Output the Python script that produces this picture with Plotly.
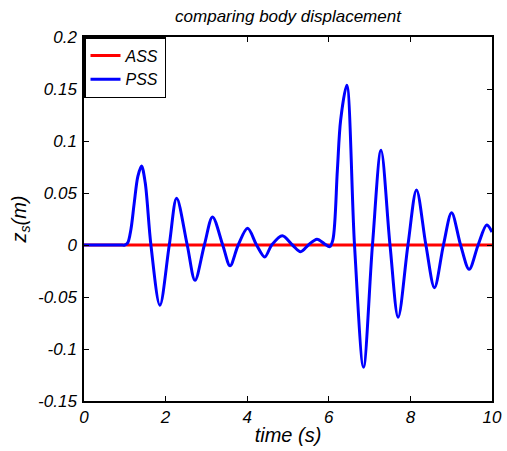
import plotly.graph_objects as go

# Time samples (s) and body displacement (m)
t_pss = [0, 0.3, 0.6, 0.9, 1.0, 1.07, 1.15, 1.23, 1.32, 1.41, 1.50, 1.64, 1.86, 2.09, 2.27, 2.53, 2.72,
         2.95, 3.15, 3.40, 3.58, 3.78, 4.01, 4.23, 4.43, 4.60, 4.86, 5.11, 5.31, 5.50,
         5.71, 5.90, 6.02, 6.10, 6.21, 6.29, 6.44, 6.63, 6.85, 7.07, 7.28, 7.50, 7.70,
         7.94, 8.15, 8.38, 8.59, 8.81, 9.01, 9.23, 9.44, 9.66, 9.87, 10.0]
z_pss = [0, 0, 0, 0, 0, 0.002, 0.015, 0.040, 0.066, 0.076, 0.060, 0.0, -0.058, 0.0, 0.045, 0.0, -0.034,
         0.0, 0.027, 0.0, -0.020, 0.0, 0.016, 0.0, -0.0115, 0.0, 0.009, 0.0, -0.0064, 0.0,
         0.0056, 0.001, -0.0016, 0.005, 0.072, 0.12, 0.1535, 0.0, -0.1175, 0.0, 0.091, 0.0, -0.0695,
         0.0, 0.053, 0.0, -0.041, 0.0, 0.031, 0.0, -0.0234, 0.0, 0.0192, 0.0125]

t_ass = [0, 10]
z_ass = [0, 0]

x_ticks = [0, 2, 4, 6, 8, 10]
y_ticks = [-0.15, -0.1, -0.05, 0, 0.05, 0.1, 0.15, 0.2]
y_tick_text = ["-0.15", "-0.1", "-0.05", "0", "0.05", "0.1", "0.15", "0.2"]

fig = go.Figure()
fig.add_trace(go.Scatter(x=t_ass, y=z_ass, mode="lines", name="ASS",
                         line=dict(color="#ff0000", width=3)))
fig.add_trace(go.Scatter(x=t_pss, y=z_pss, mode="lines", name="PSS",
                         line=dict(color="#0000ff", width=3, shape="spline", smoothing=0.9)))

W, H = 507, 451
font_family = "Liberation Sans, Arial, sans-serif"
fig.update_layout(
    width=W, height=H,
    margin=dict(l=84, r=15, t=37, b=50, autoexpand=False),
    paper_bgcolor="white", plot_bgcolor="white",
    font=dict(family=font_family, size=17, color="black", style="italic"),
    title=dict(text="comparing body displacement", x=0.5, xref="paper",
               y=1 - 16 / H, yanchor="middle", xanchor="center",
               font=dict(family=font_family, size=17, color="black", style="italic")),
    showlegend=True,
    legend=dict(x=0, y=1, xanchor="left", yanchor="top", bgcolor="white",
                bordercolor="black", borderwidth=1.5,
                font=dict(family=font_family, size=16, color="black", style="italic"),
                tracegroupgap=0, itemwidth=30),
)
fig.update_xaxes(range=[0, 10], tickvals=x_ticks, ticktext=[str(v) for v in x_ticks],
                 showgrid=False, zeroline=False, showline=True, linecolor="black", linewidth=1.5,
                 mirror="ticks", ticks="inside", ticklen=5, tickcolor="black",
                 automargin=False, ticklabeloverflow="allow",
                 title=dict(text="time (s)", standoff=2))
fig.update_yaxes(range=[-0.15, 0.2], tickvals=y_ticks, ticktext=y_tick_text,
                 showgrid=False, zeroline=False, showline=True, linecolor="black", linewidth=1.5,
                 mirror="ticks", ticks="inside", ticklen=5, tickcolor="black",
                 ticklabelstandoff=2, automargin=False, ticklabeloverflow="allow",
                 title=dict(text="z<sub>s</sub>(m)", standoff=6))

# Remove the page's default body margin so the figure fills the window exactly.
fig.write_html("out.html", config={"displayModeBar": False},
               post_script="document.body.style.margin='0';document.body.style.overflow='hidden';")
